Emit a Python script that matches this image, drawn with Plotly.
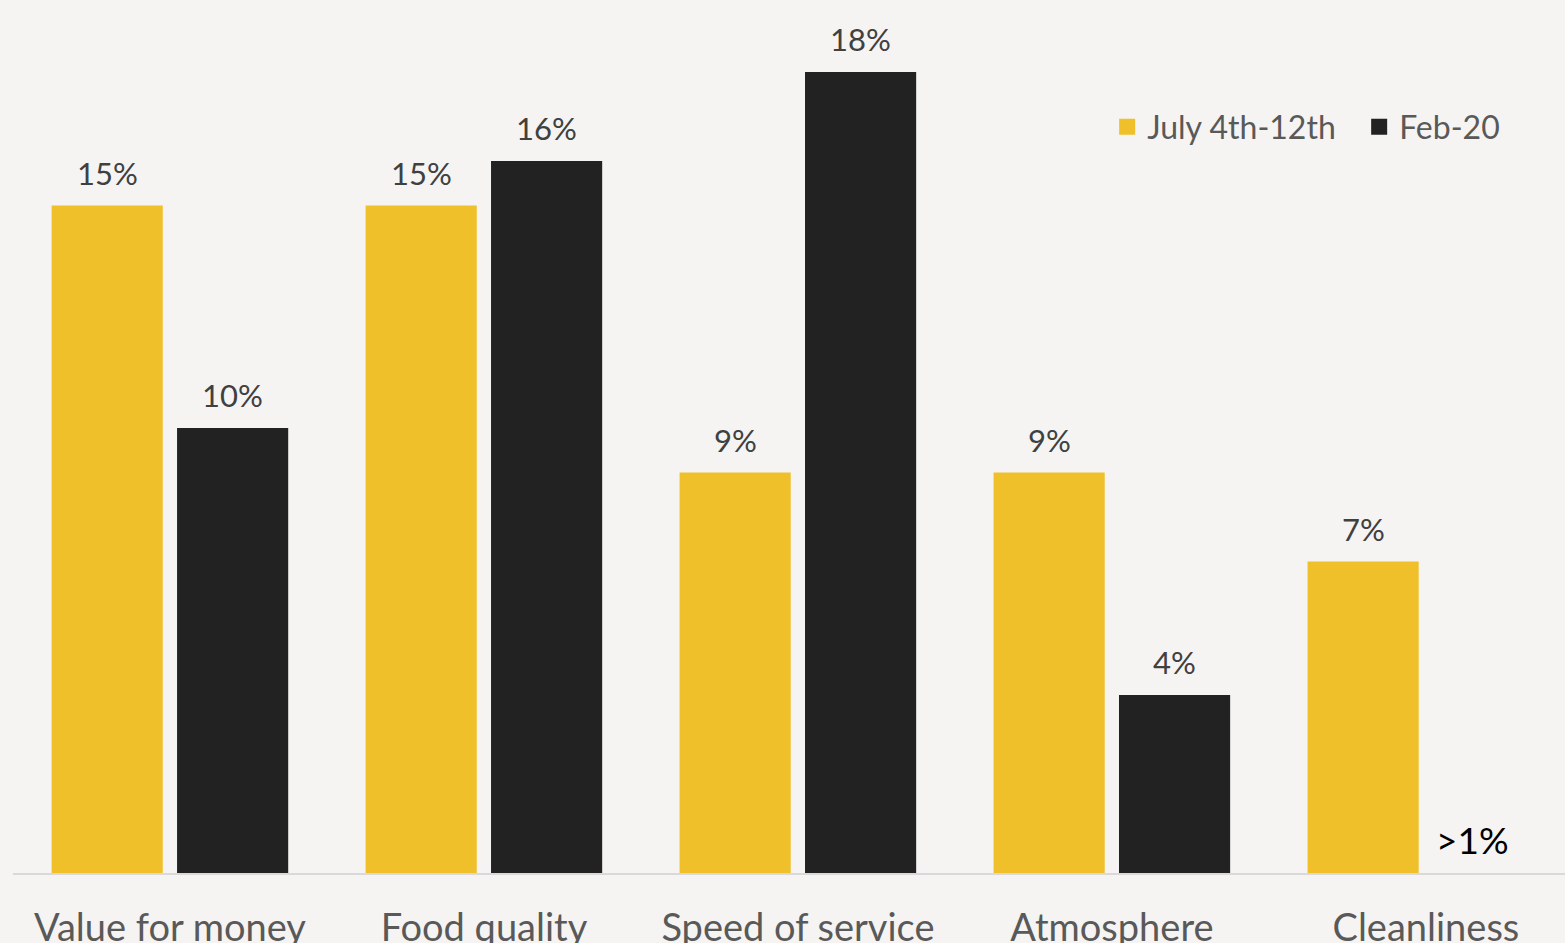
import plotly.graph_objects as go

categories = ["Value for money", "Food quality", "Speed of service", "Atmosphere", "Cleanliness"]
july = [15, 15, 9, 9, 7]
feb = [10, 16, 18, 4, None]
july_labels = ["15%", "15%", "9%", "9%", "7%"]
feb_labels = ["10%", "16%", "18%", "4%", ">1%"]
series_names = ["July 4th-12th", "Feb-20"]

YELLOW = "#f0c02a"
BLACK = "#222222"
BG = "#f5f4f2"
FONT = "Lato"

x = list(range(len(categories)))
bw = 0.354
off_y = -0.377
off_b = 0.0225

fig = go.Figure()
fig.add_trace(go.Bar(x=x, y=july, name=series_names[0], marker_color=YELLOW,
                     width=bw, offset=off_y, marker_line_width=0, showlegend=False))
fig.add_trace(go.Bar(x=x, y=feb, name=series_names[1], marker_color=BLACK,
                     width=bw, offset=off_b, marker_line_width=0, showlegend=False))
# legend entries with larger square swatches
for name, col in zip(series_names, [YELLOW, BLACK]):
    fig.add_trace(go.Scatter(x=[None], y=[None], mode="markers", name=name,
                             marker=dict(symbol="square", size=19, color=col)))

annotations = []
for i in x:
    annotations.append(dict(x=i + off_y + bw / 2, y=july[i], text=july_labels[i],
                            showarrow=False, yanchor="bottom", yshift=12,
                            font=dict(family=FONT, size=31, color="#404040")))
    if feb[i] is not None:
        annotations.append(dict(x=i + off_b + bw / 2, y=feb[i], text=feb_labels[i],
                                showarrow=False, yanchor="bottom", yshift=12,
                                font=dict(family=FONT, size=31, color="#404040")))
    else:
        annotations.append(dict(x=i + 0.148, y=0, text=feb_labels[i],
                                showarrow=False, yanchor="bottom", yshift=9,
                                font=dict(family=FONT, size=37, color="#000000")))

fig.update_layout(
    width=1565, height=943,
    margin=dict(l=13, r=0, t=0, b=70, autoexpand=False),
    paper_bgcolor=BG, plot_bgcolor=BG,
    barmode="overlay",
    showlegend=True,
    legend=dict(orientation="h", x=0.705, xanchor="left", y=0.8545, yanchor="middle",
                entrywidth=207,
                font=dict(family=FONT, size=32, color="#595959"),
                bgcolor="rgba(0,0,0,0)"),
    annotations=annotations,
    font=dict(family=FONT),
)
fig.update_xaxes(range=[-0.5, 4.443], tickvals=x, ticktext=categories,
                 showline=True, linecolor="#d9d9d9", linewidth=2,
                 showgrid=False, zeroline=False, ticks="",
                 ticklabelstandoff=20,
                 tickfont=dict(family=FONT, size=38, color="#595959"))
fig.update_yaxes(range=[0, 19.62], showgrid=False, zeroline=False,
                 showticklabels=False, showline=False)

fig.write_html("out.html")
